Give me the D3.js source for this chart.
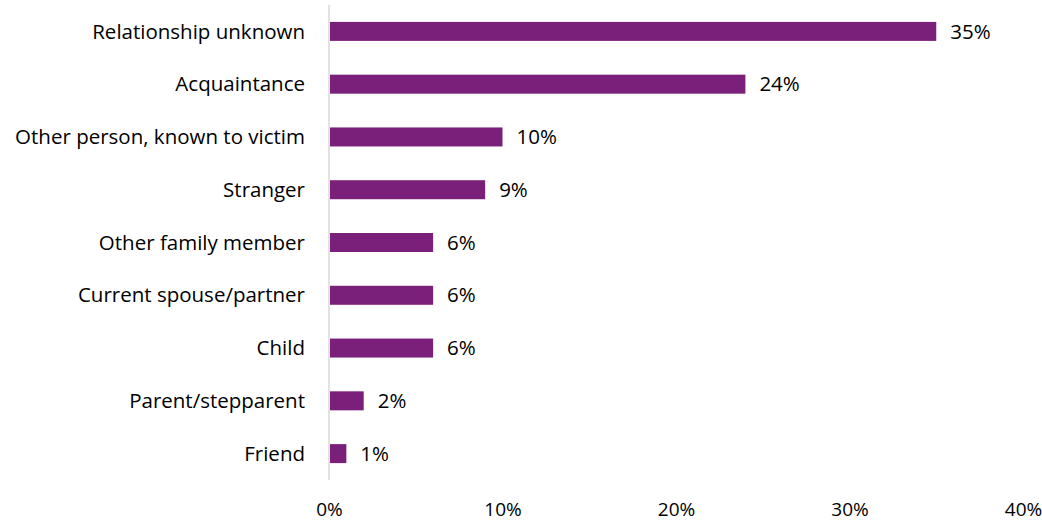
<!DOCTYPE html>
<html>
<head>
<meta charset="utf-8">
<script src="https://cdn.jsdelivr.net/npm/d3@7"></script>
<style>
  html, body { margin: 0; padding: 0; background: #fff; }
  svg { display: block; font-family: "Open Sans", Lato, sans-serif; }
</style>
</head>
<body>
<svg id="chart" width="1042" height="525"></svg>
<script>
// Relationship of offender to victim, share of cases
const categories = [
  "Relationship unknown",
  "Acquaintance",
  "Other person, known to victim",
  "Stranger",
  "Other family member",
  "Current spouse/partner",
  "Child",
  "Parent/stepparent",
  "Friend"
];
const shares = [35, 24, 10, 9, 6, 6, 6, 2, 1];
const xTicks = [0, 10, 20, 30, 40];

const fontFamily = "'Open Sans', Lato, sans-serif";
const fontSize = 20.5;

const svg = d3.select("#chart");
const plotLeft = 329, plotRight = 1023, plotTop = 5, plotBottom = 480;

const x = d3.scaleLinear().domain([0, 40]).range([plotLeft, plotRight]);
const y = d3.scaleBand().domain(categories).range([plotTop, plotBottom]).paddingInner(0.64).paddingOuter(0.32);

// bars
svg.append("g").selectAll("rect")
  .data(categories)
  .join("rect")
  .attr("x", x(0) + 1)
  .attr("y", d => y(d))
  .attr("width", (d, i) => x(shares[i]) - x(0) - 1)
  .attr("height", y.bandwidth())
  .attr("fill", "#7a1f7a");

// vertical axis line
svg.append("line")
  .attr("x1", x(0)).attr("x2", x(0))
  .attr("y1", plotTop).attr("y2", plotBottom)
  .attr("stroke", "#d9d9d9").attr("stroke-width", 1.5);

// category labels
svg.append("g").selectAll("text")
  .data(categories)
  .join("text")
  .attr("x", x(0) - 24)
  .attr("y", d => y(d) + y.bandwidth() / 2)
  .attr("dy", "0.35em")
  .attr("text-anchor", "end")
  .attr("font-size", fontSize)
  .attr("fill", "#000")
  .text(d => d);

// value labels
svg.append("g").selectAll("text")
  .data(categories)
  .join("text")
  .attr("x", (d, i) => x(shares[i]) + 14)
  .attr("y", d => y(d) + y.bandwidth() / 2)
  .attr("dy", "0.35em")
  .attr("font-size", fontSize)
  .attr("fill", "#000")
  .text((d, i) => shares[i] + "%");

// x axis tick labels
const xAxis = d3.axisBottom(x).tickValues(xTicks).tickSize(0).tickPadding(0)
  .tickFormat(d => d + "%");
const gx = svg.append("g").attr("transform", `translate(0, ${plotBottom + 22})`).call(xAxis);
gx.select(".domain").remove();
gx.selectAll("text").attr("font-size", 19).attr("font-family", fontFamily).attr("fill", "#000");
</script>
</body>
</html>
